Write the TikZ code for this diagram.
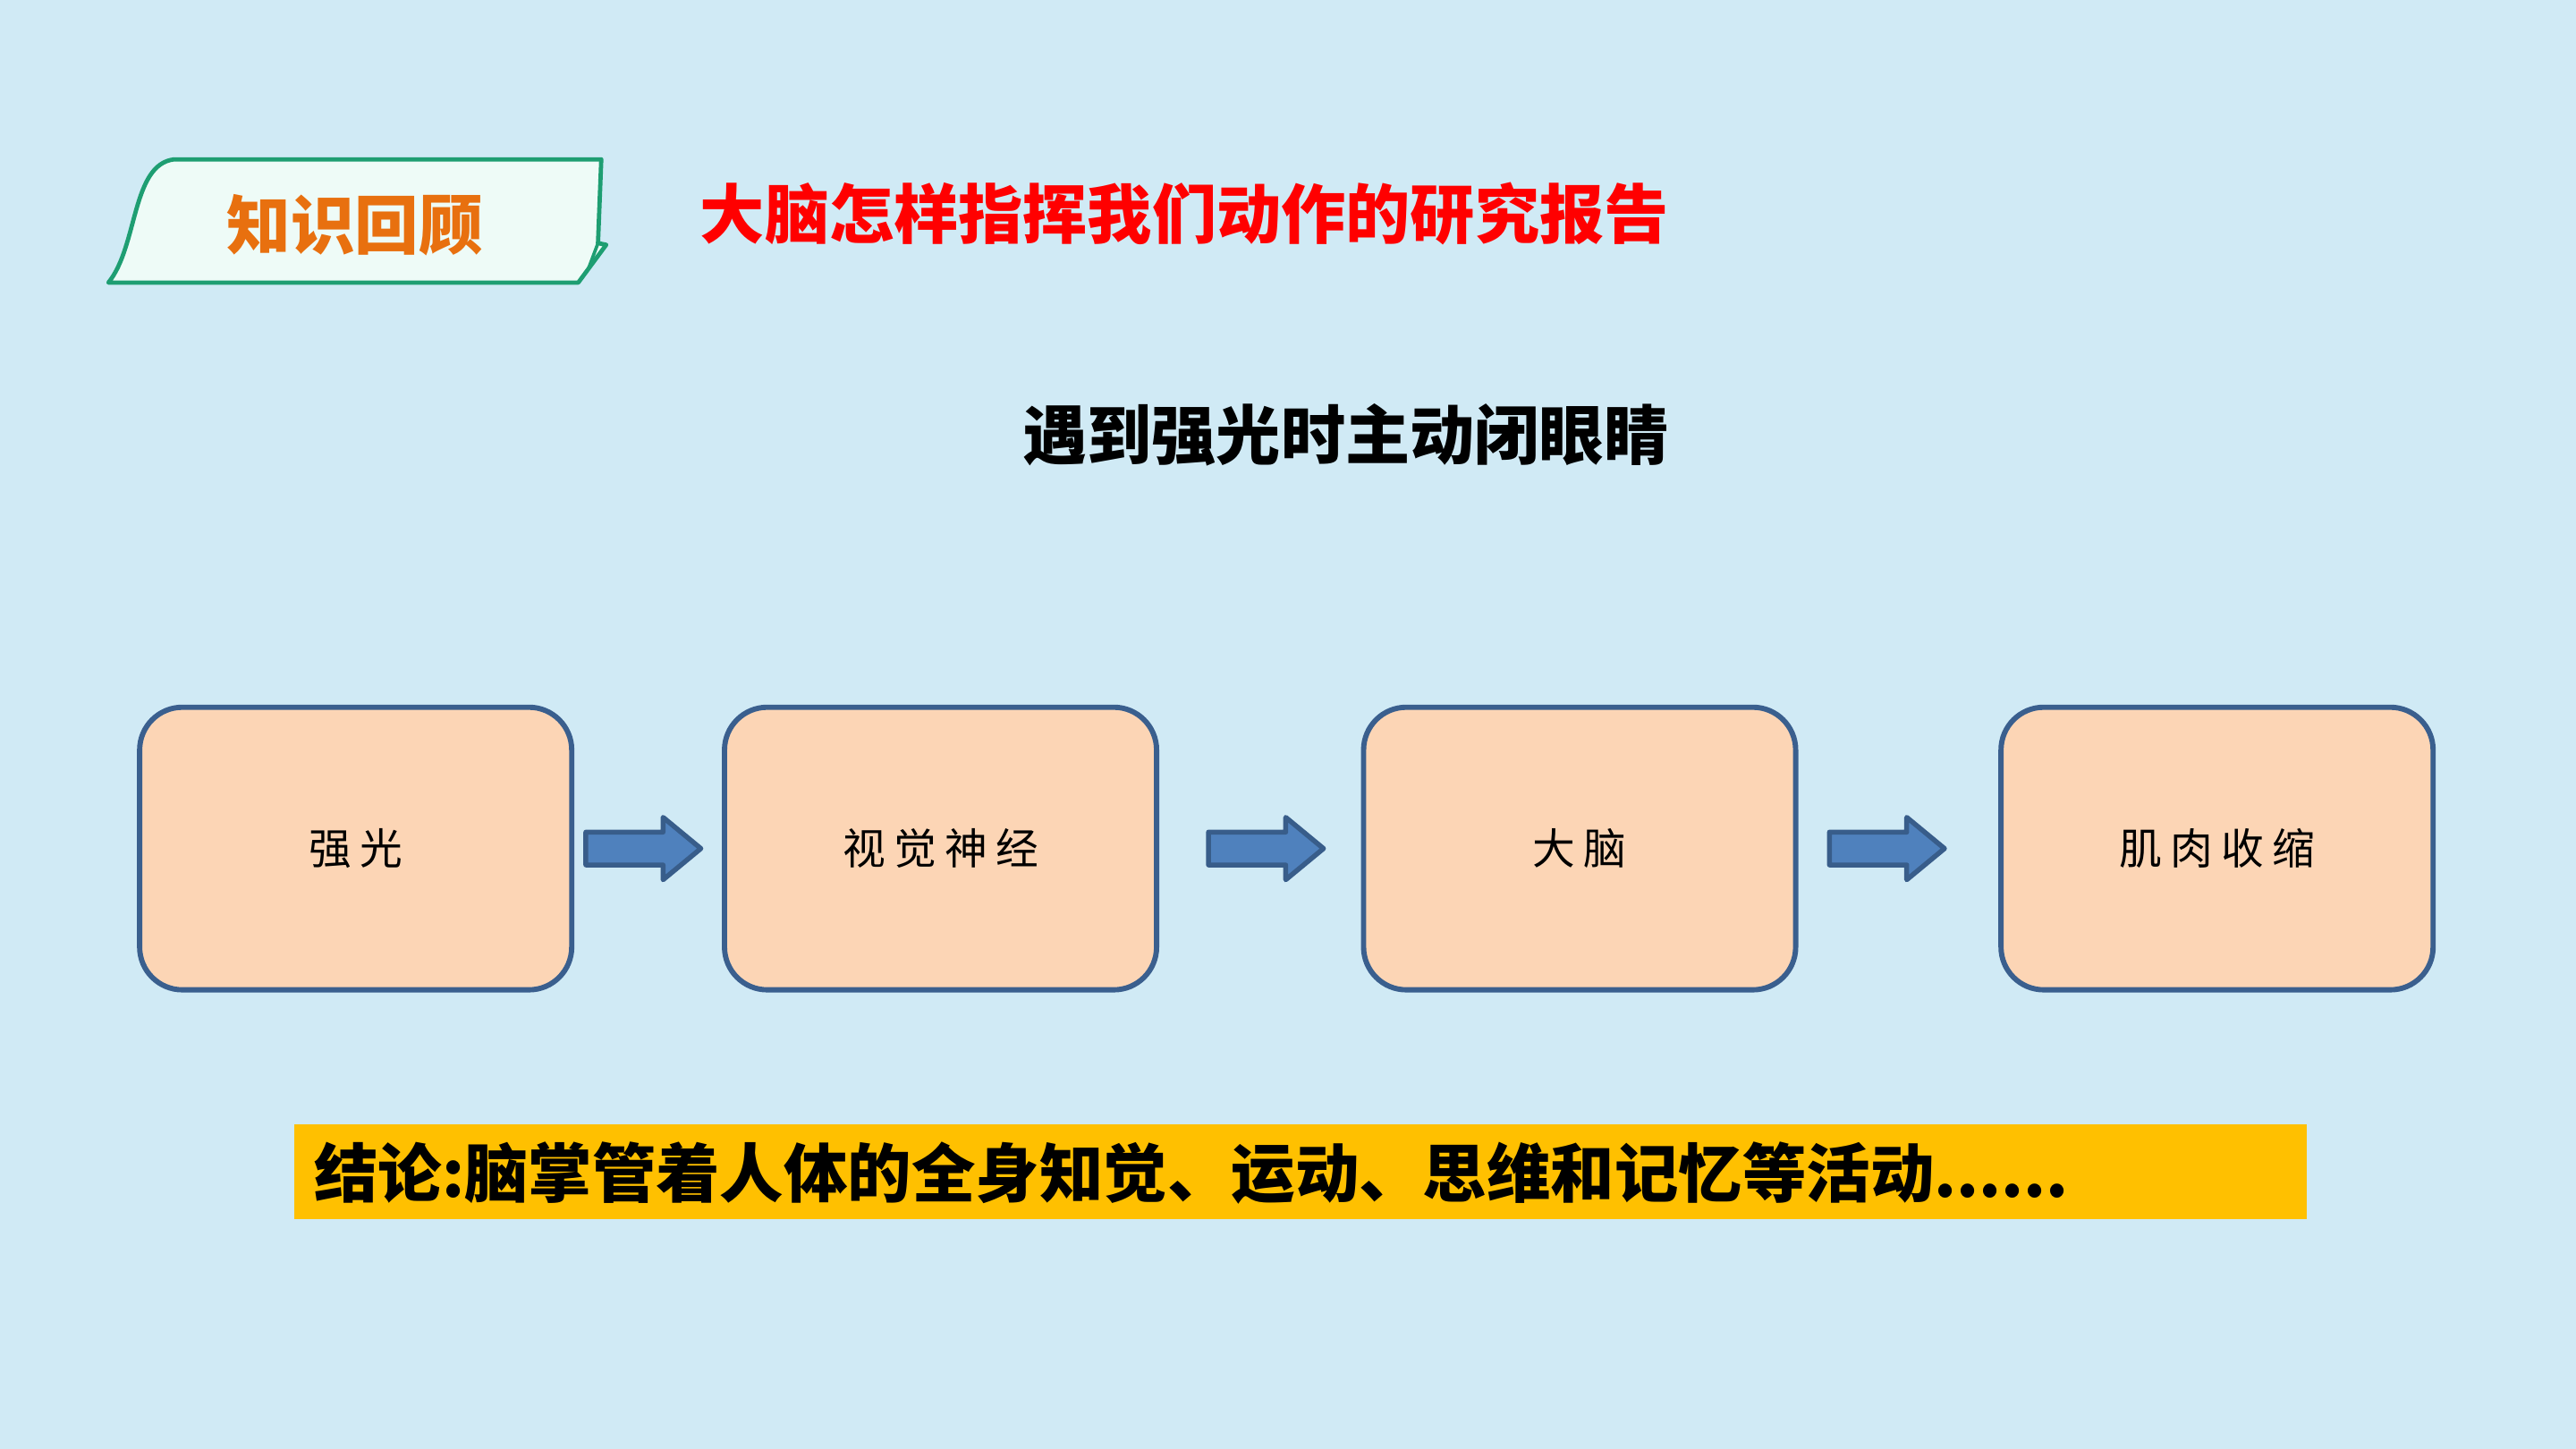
\documentclass[tikz,border=0pt]{standalone}
\usepackage{fontspec}
\newfontfamily\cjk{Noto Sans CJK SC}
\usetikzlibrary{calc}
\definecolor{bgblue}{HTML}{D0EAF5}
\definecolor{tabfill}{HTML}{EEFBF7}
\definecolor{tabline}{HTML}{1E9E72}
\definecolor{taborange}{HTML}{E8700F}
\definecolor{boxfill}{HTML}{FCD5B5}
\definecolor{boxline}{HTML}{3A5F8E}
\definecolor{arrfill}{HTML}{4F81BD}
\definecolor{arrline}{HTML}{385D8A}
\definecolor{barfill}{HTML}{FFC000}
\tikzset{
  stepbox/.style={draw=boxline, line width=3.2pt, fill=boxfill, rounded corners=26pt,
    minimum width=263pt, minimum height=172pt, inner sep=0pt,
    font=\cjk\fontsize{26}{30}\selectfont},
  blockarrow/.pic={
    \draw[draw=arrline, fill=arrfill, line width=3pt, line join=round]
      (0,-10) -- (47,-10) -- (47,-19) -- (70,0) -- (47,19) -- (47,10) -- (0,10) -- cycle;
  },
  bigtitle/.style={inner sep=0pt, font=\cjk\bfseries\fontsize{39.3}{44}\selectfont},
}
\begin{document}
\begin{tikzpicture}[x=1pt,y=-1pt]
\fill[bgblue] (0,0) rectangle (1568,882);
\useasboundingbox (0,0) rectangle (1568,882);

% tab
\draw[tabline, fill=tabfill, line width=2.6pt, line join=round]
  (66,172) .. controls (84,150) and (80,100) .. (106,97)
  -- (366,97) -- (364,148) -- (369,149) -- (352,172) -- cycle;
\draw[tabline, line width=2pt, line join=round] (364,148) -- (358,164);
\node[bigtitle, text=taborange, font=\cjk\bfseries\fontsize{39}{42}\selectfont] (tab) at (216,137) {知识回顾};

% titles
\node[bigtitle, text=red, anchor=west] (title) at (426,130) {大脑怎样指挥我们动作的研究报告};
\node[bigtitle, text=black] (sub) at (819,265) {遇到强光时主动闭眼睛};

% boxes
\node[stepbox] (b1) at (216.5,516.5) {强\kern5pt 光};
\node[stepbox] (b2) at (572.5,516.5) {视\kern5pt 觉\kern5pt 神\kern5pt 经};
\node[stepbox] (b3) at (961.5,516.5) {大\kern5pt 脑};
\node[stepbox] (b4) at (1349.5,516.5) {肌\kern5pt 肉\kern5pt 收\kern5pt 缩};

% arrows
\coordinate (a1) at ($(b1.east)+(7,0)$);
\coordinate (a2) at ($(b2.east)+(30,0)$);
\coordinate (a3) at ($(b3.east)+(19,0)$);
\pic at (a1) {blockarrow};
\pic at (a2) {blockarrow};
\pic at (a3) {blockarrow};

% conclusion bar
\node[fill=barfill, minimum width=1225pt, minimum height=58pt, inner sep=0pt, anchor=north west] (bar) at (179,684) {};
\node[bigtitle, text=black, anchor=west, font=\cjk\bfseries\fontsize{38.9}{42}\selectfont] (concl) at (191,714) {结论:脑掌管着人体的全身知觉、运动、思维和记忆等活动......};
\end{tikzpicture}
\end{document}
